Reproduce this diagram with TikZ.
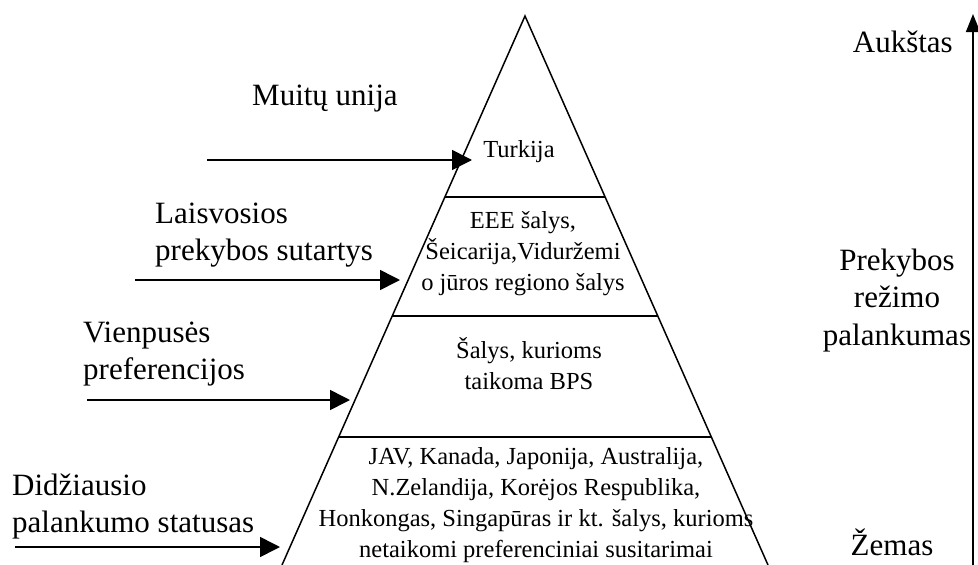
\documentclass[tikz,border=0pt]{standalone}
\usepackage{fontspec}
\setmainfont{Liberation Serif}
\usetikzlibrary{arrows.meta}
\begin{document}
\begin{tikzpicture}[x=1pt,y=-1pt,
  big/.style={font=\fontsize{31}{37}\selectfont, inner sep=0pt, align=left},
  bigc/.style={font=\fontsize{31}{37.5}\selectfont, inner sep=0pt, align=center},
  inn/.style={font=\fontsize{24.5}{31}\selectfont, inner sep=0pt, align=center},
  arr/.style={line width=1.6pt, -{Triangle[length=20pt,width=20pt]}},
  varr/.style={line width=1.6pt, -{Triangle[length=18pt,width=14pt]}},
  pyr/.style={line width=1.5pt, line join=miter}]
\useasboundingbox (0,0) rectangle (978,565);
% pyramid
\coordinate (apex) at (525,16);
\coordinate (bl) at (282,565);
\coordinate (br) at (768,565);
\draw[pyr] (bl) -- (apex) -- (br);
\coordinate (l1) at (444.9,197); \coordinate (r1) at (605.1,197);
\coordinate (l2) at (392.2,316); \coordinate (r2) at (657.8,316);
\coordinate (l3) at (338.7,437); \coordinate (r3) at (711.3,437);
\draw[pyr] (l1) -- (r1);
\draw[pyr] (l2) -- (r2);
\draw[pyr] (l3) -- (r3);
% pyramid texts (base = baseline of last line)
\node[inn, anchor=base] (t1) at (519,157) {Turkija};
\node[inn, anchor=base] (t2) at (523,290) {EEE šalys,\\Šeicarija,Viduržemi\\o jūros regiono šalys};
\node[inn, anchor=base] (t3) at (529,389) {Šalys, kurioms\\taikoma BPS};
\node[inn, anchor=base] (t4) at (536,557) {JAV, Kanada, Japonija, Australija,\\N.Zelandija, Korėjos Respublika,\\Honkongas, Singapūras ir kt. šalys, kurioms\\netaikomi preferenciniai susitarimai};
% left labels
\node[big, anchor=base west] (m) at (252,105) {Muitų unija};
\node[big, anchor=base west] (ls) at (155,260) {Laisvosios\\prekybos sutartys};
\node[big, anchor=base west] (vp) at (83,379) {Vienpusės\\preferencijos};
\node[big, anchor=base west] (dp) at (12,532) {Didžiausio\\palankumo statusas};
% left arrows
\coordinate (a1s) at (207,160); \coordinate (a1e) at (472,160);
\coordinate (a2s) at (135,280); \coordinate (a2e) at (400,280);
\coordinate (a3s) at (87,400);  \coordinate (a3e) at (350,400);
\coordinate (a4s) at (15,547);  \coordinate (a4e) at (280,547);
\draw[arr] (a1s) -- (a1e);
\draw[arr] (a2s) -- (a2e);
\draw[arr] (a3s) -- (a3e);
\draw[arr] (a4s) -- (a4e);
% right axis
\coordinate (vb) at (973,565); \coordinate (vt) at (973,14);
\draw[varr] (vb) -- (vt);
\node[big, anchor=base east] (hi) at (953,52) {Aukštas};
\node[bigc, anchor=base] (mid) at (897,345) {Prekybos\\režimo\\palankumas};
\node[big, anchor=base] (lo) at (892,555) {Žemas};
\end{tikzpicture}
\end{document}
